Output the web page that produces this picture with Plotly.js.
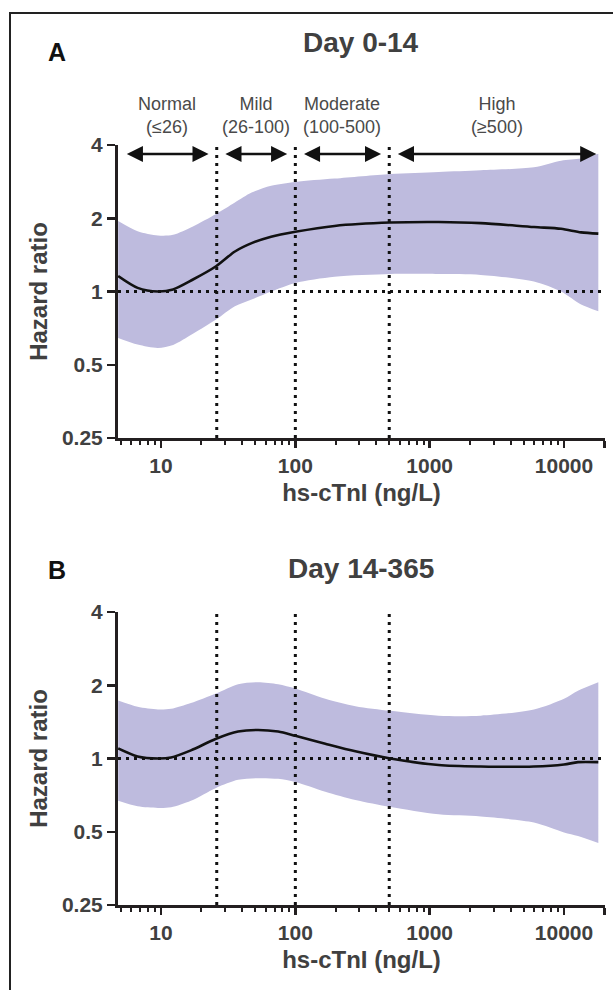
<!DOCTYPE html>
<html><head><meta charset="utf-8">
<script src="https://cdn.plot.ly/plotly-3.0.1.min.js"></script>
<style>html,body{margin:0;padding:0;background:#fff;}</style>
</head><body>
<div id="chart" style="width:613px;height:990px;"></div>
<script>
// ---- Panel A: Day 0-14 ----
const xTop  = [4.8, 6.7, 9.5, 12.3, 17.3, 25.7, 35.5, 47.3, 66, 100, 196, 510, 1165, 2400, 5970, 9500, 13400, 18000];
const hrTop = [1.157, 1.035, 1.0, 1.02, 1.12, 1.27, 1.46, 1.58, 1.68, 1.76, 1.86, 1.92, 1.93, 1.91, 1.84, 1.81, 1.75, 1.73];
const hiTop = [1.95, 1.77, 1.70, 1.71, 1.85, 2.08, 2.32, 2.55, 2.72, 2.82, 2.91, 3.04, 3.10, 3.15, 3.24, 3.45, 3.52, 3.68];
const loTop = [0.644, 0.605, 0.586, 0.603, 0.67, 0.767, 0.87, 0.927, 1.0, 1.085, 1.15, 1.18, 1.18, 1.17, 1.10, 1.0, 0.884, 0.83];

// ---- Panel B: Day 14-365 ----
const xBot  = [4.8, 6.7, 9.5, 11.9, 16.7, 25.7, 37.5, 52.8, 74.5, 100, 167, 280, 510, 1165, 2400, 5970, 10000, 12700, 18000];
const hrBot = [1.10, 1.02, 1.0, 1.01, 1.08, 1.205, 1.29, 1.31, 1.29, 1.24, 1.15, 1.07, 1.0, 0.94, 0.927, 0.927, 0.945, 0.966, 0.966];
const hiBot = [1.73, 1.63, 1.59, 1.60, 1.69, 1.85, 2.02, 2.06, 2.02, 1.94, 1.76, 1.64, 1.57, 1.50, 1.50, 1.59, 1.76, 1.90, 2.06];
const loBot = [0.67, 0.636, 0.626, 0.63, 0.67, 0.757, 0.817, 0.83, 0.825, 0.80, 0.73, 0.675, 0.632, 0.59, 0.578, 0.546, 0.497, 0.48, 0.45];

// ---- Categories ----
const categories      = ['Normal', 'Mild', 'Moderate', 'High'];
const categoryRanges  = ['(≤26)', '(26-100)', '(100-500)', '(≥500)'];
const categoryBounds  = [4.8, 26, 100, 500, 20000];
const cutoffs         = [26, 100, 500];

// ---- Ticks / labels ----
const xTickVals  = [10, 100, 1000, 10000, 20000];
const xTickText  = ['10', '100', '1000', '10000', ''];
const xMinorTickVals = [5, 6, 7, 8, 9, 20, 30, 40, 50, 60, 70, 80, 90, 200, 300, 400, 500, 600, 700, 800, 900,
                        2000, 3000, 4000, 5000, 6000, 7000, 8000, 9000];
const yTickVals  = [0.25, 0.5, 1, 2, 4];
const yTickText  = ['0.25', '0.5', '1', '2', '4'];
const panelTitles  = ['Day 0-14', 'Day 14-365'];
const panelLetters = ['A', 'B'];
const xTitle = 'hs-cTnI (ng/L)';
const yTitle = 'Hazard ratio';

// ---- Styling ----
const W = 613, H = 990;
const FONT = 'Liberation Sans, Arial, Helvetica, sans-serif';
const BAND = 'rgb(190,187,222)';
const INK = '#231f20';
const GREY = '#404040';
const px = v => v / W;
const py = v => 1 - v / H;

const xDomain = [px(118), px(605)];
const yDomTop = [py(438), py(145)];
const yDomBot = [py(905), py(612)];
const xRange = [0.68, 4.305];
const yRange = [Math.log10(0.25), Math.log10(4)];

function bandTraces(x, lo, hi, hr, xa, ya) {
  return [
    {x: x, y: lo, xaxis: xa, yaxis: ya, type: 'scatter', mode: 'lines',
     line: {width: 0, shape: 'spline', smoothing: 0.8}, hoverinfo: 'skip', showlegend: false},
    {x: x, y: hi, xaxis: xa, yaxis: ya, type: 'scatter', mode: 'lines', fill: 'tonexty',
     fillcolor: BAND, line: {width: 0, shape: 'spline', smoothing: 0.8}, hoverinfo: 'skip', showlegend: false},
    {x: x, y: hr, xaxis: xa, yaxis: ya, type: 'scatter', mode: 'lines',
     line: {width: 2.6, color: '#111', shape: 'spline', smoothing: 0.8}, showlegend: false}
  ];
}

const data = [].concat(
  bandTraces(xTop, loTop, hiTop, hrTop, 'x', 'y'),
  bandTraces(xBot, loBot, hiBot, hrBot, 'x2', 'y2')
);

function xAxis(anchor) {
  return {
    type: 'log', domain: xDomain, range: xRange, anchor: anchor,
    showline: true, linewidth: 3, linecolor: INK, showgrid: false, zeroline: false,
    ticks: 'outside', ticklen: 7, tickwidth: 2.5, tickcolor: INK,
    tickmode: 'array', tickvals: xTickVals, ticktext: xTickText,
    tickfont: {family: FONT, size: 21, color: GREY, weight: 'bold'},
    minor: {tickmode: 'array', tickvals: xMinorTickVals, ticks: 'outside', ticklen: 4, tickwidth: 2, tickcolor: INK, showgrid: false},
    title: {text: xTitle, font: {family: FONT, size: 24, color: GREY, weight: 'bold'}, standoff: 8},
    fixedrange: true
  };
}
function yAxis(domain, anchor) {
  return {
    type: 'log', domain: domain, range: yRange, anchor: anchor,
    showline: true, linewidth: 3, linecolor: INK, showgrid: false, zeroline: false,
    ticks: 'outside', ticklen: 8, tickwidth: 2.5, tickcolor: INK,
    tickmode: 'array', tickvals: yTickVals, ticktext: yTickText,
    tickfont: {family: FONT, size: 21, color: GREY, weight: 'bold'},
    title: {text: yTitle, font: {family: FONT, size: 24, color: GREY, weight: 'bold'}, standoff: 8},
    fixedrange: true
  };
}

const shapes = [];
const dotted = {color: '#111', width: 3, dash: '3px,5px'};
[['x', 'y'], ['x2', 'y2']].forEach(([xa, ya]) => {
  cutoffs.forEach(c => {
    shapes.push({type: 'line', xref: xa, yref: ya + ' domain', x0: c, x1: c, y0: 0, y1: 1, line: dotted, layer: 'above'});
  });
  shapes.push({type: 'line', xref: xa + ' domain', yref: ya, x0: 0, x1: 1, y0: 1, y1: 1, line: dotted, layer: 'above'});
});
// outer frame
shapes.push({type: 'rect', xref: 'paper', yref: 'paper', x0: px(10), x1: 1.05, y0: -0.05, y1: py(13),
             line: {color: '#222', width: 2}, fillcolor: 'rgba(0,0,0,0)', layer: 'below'});

const annotations = [];
const letterY = [52, 570], titleY = [43, 568];
panelLetters.forEach((t, i) => {
  annotations.push({text: t, xref: 'paper', yref: 'paper', x: px(57), y: py(letterY[i]), showarrow: false,
    xanchor: 'center', yanchor: 'middle', font: {family: FONT, size: 25, color: '#111', weight: 'bold'}});
  annotations.push({text: panelTitles[i], xref: 'paper', yref: 'paper', x: px(361), y: py(titleY[i]), showarrow: false,
    xanchor: 'center', yanchor: 'middle', font: {family: FONT, size: 28, color: GREY, weight: 'bold'}});
});
const pad = 1.15;
categories.forEach((c, i) => {
  const a = categoryBounds[i], b = categoryBounds[i + 1];
  annotations.push({text: c + '<br>' + categoryRanges[i], xref: 'x', yref: 'paper',
    x: (Math.log10(a) + Math.log10(b)) / 2, y: py(116), showarrow: false,
    xanchor: 'center', yanchor: 'middle', font: {family: FONT, size: 18, color: '#4a4a4a'}});
  annotations.push({text: ' ', xref: 'x', yref: 'paper', axref: 'x', ayref: 'pixel',
    x: Math.log10(b / pad), y: py(154), ax: Math.log10(a * pad), ay: 0,
    showarrow: true, arrowside: 'end+start', arrowhead: 2, startarrowhead: 2,
    arrowsize: 1.4, startarrowsize: 1.4, arrowwidth: 2.3, arrowcolor: '#111',
    standoff: 0, startstandoff: 0, font: {size: 1}, borderpad: 0});
});

const layout = {
  width: W, height: H, margin: {l: 0, r: 0, t: 0, b: 0},
  paper_bgcolor: '#fff', plot_bgcolor: 'rgba(0,0,0,0)',
  font: {family: FONT},
  xaxis: xAxis('y'), yaxis: yAxis(yDomTop, 'x'),
  xaxis2: xAxis('y2'), yaxis2: yAxis(yDomBot, 'x2'),
  shapes: shapes, annotations: annotations, showlegend: false
};

Plotly.newPlot('chart', data, layout, {staticPlot: true, displayModeBar: false});
</script>
</body></html>
